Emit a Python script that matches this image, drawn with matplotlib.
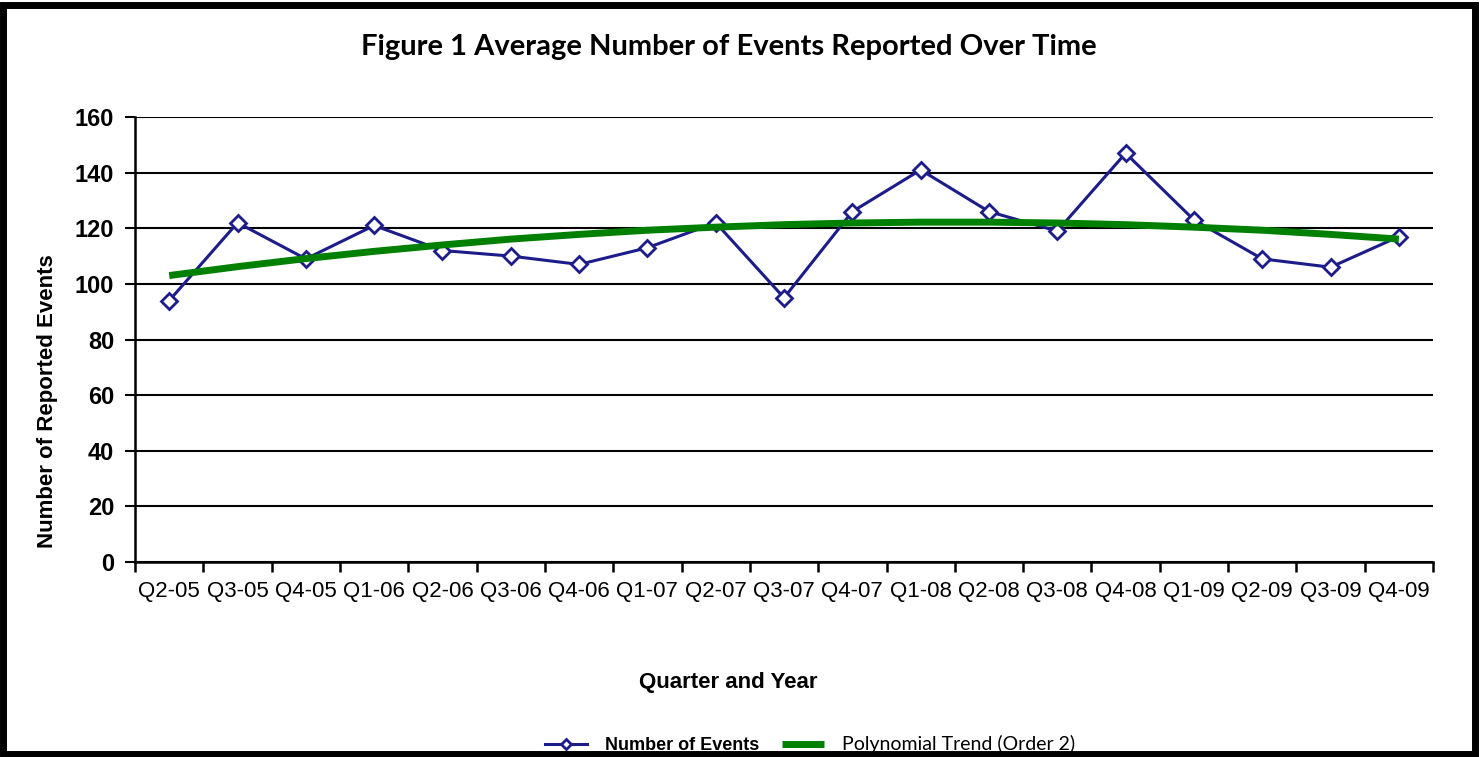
import numpy as np
import matplotlib.pyplot as plt
from matplotlib.patches import Rectangle

# quarters and values
quarters = ["Q2-05", "Q3-05", "Q4-05", "Q1-06", "Q2-06", "Q3-06", "Q4-06",
            "Q1-07", "Q2-07", "Q3-07", "Q4-07", "Q1-08", "Q2-08", "Q3-08",
            "Q4-08", "Q1-09", "Q2-09", "Q3-09", "Q4-09"]
events = [94, 122, 109, 121, 112, 110, 107, 113, 122, 95, 126, 141, 126,
          119, 147, 123, 109, 106, 117]
trend = [103.0, 106.2, 109.1, 111.7, 114.0, 116.1, 117.8, 119.3, 120.4,
         121.3, 121.9, 122.2, 122.2, 121.9, 121.3, 120.4, 119.3, 117.8, 116.1]
yticks = [0, 20, 40, 60, 80, 100, 120, 140, 160]

x = np.arange(len(quarters))

fig = plt.figure(figsize=(14.81, 7.57), dpi=100)
ax = fig.add_axes([0.0912, 0.2576, 0.8764, 0.5878])

ax.plot(x, events, color="#1c1c8a", lw=2.2, marker="D", ms=8,
        mfc="white", mec="#1c1c8a", mew=2, label="Number of Events", zorder=3)
ax.plot(x, trend, color="#008000", lw=5, solid_capstyle="butt",
        label="Polynomial Trend (Order 2)", zorder=4)

ax.set_xlim(-0.5, len(quarters) - 0.5)
ax.set_ylim(0, 160)
ax.set_yticks(yticks)
ax.yaxis.grid(True, color="black", lw=1.5)
ax.set_axisbelow(True)

# category ticks sit between the labels, like Excel
ax.set_xticks(np.arange(len(quarters) + 1) - 0.5)
ax.set_xticklabels([])
ax.set_xticks(x, minor=True)
ax.set_xticklabels(quarters, minor=True)
ax.tick_params(axis="x", which="minor", length=0, pad=14, labelsize=16)
ax.tick_params(axis="x", which="major", length=7, width=1.8, direction="out")
ax.tick_params(axis="y", length=7, width=1.5, labelsize=17, pad=8)
for lbl in ax.get_xticklabels(minor=True):
    lbl.set_family("Liberation Sans")
for lbl in ax.get_yticklabels():
    lbl.set_family("Liberation Sans")
    lbl.set_fontweight("bold")

for s in ["top", "right"]:
    ax.spines[s].set_visible(False)
for s in ["left", "bottom"]:
    ax.spines[s].set_linewidth(1.8)

fig.text(0.492, 0.938, "Figure 1 Average Number of Events Reported Over Time",
         ha="center", va="center", fontsize=21, fontweight="bold", family="Lato")
fig.text(0.492, 0.098, "Quarter and Year", ha="center", va="center",
         fontsize=16, fontweight="bold", family="Liberation Sans")
fig.text(0.032, 0.47, "Number of Reported Events", ha="center", va="center",
         rotation=90, fontsize=16, fontweight="bold", family="Liberation Sans")

leg = fig.legend(loc="center", bbox_to_anchor=(0.547, 0.016), ncol=2,
                 frameon=False, fontsize=13, handlelength=2.3, markerscale=0.6,
                 columnspacing=1.3, handletextpad=1.0)
leg.get_texts()[0].set_family("Liberation Sans")
leg.get_texts()[0].set_fontweight("bold")
leg.get_texts()[0].set_fontsize(13)
leg.get_texts()[1].set_family("Lato")
leg.get_texts()[1].set_fontsize(14)

# thick frame around the whole picture
fig.patches.append(Rectangle((0.002, 0.004), 0.994, 0.99, transform=fig.transFigure,
                             fill=False, edgecolor="black", lw=5))

plt.savefig("out.png", dpi=100)
plt.close()
